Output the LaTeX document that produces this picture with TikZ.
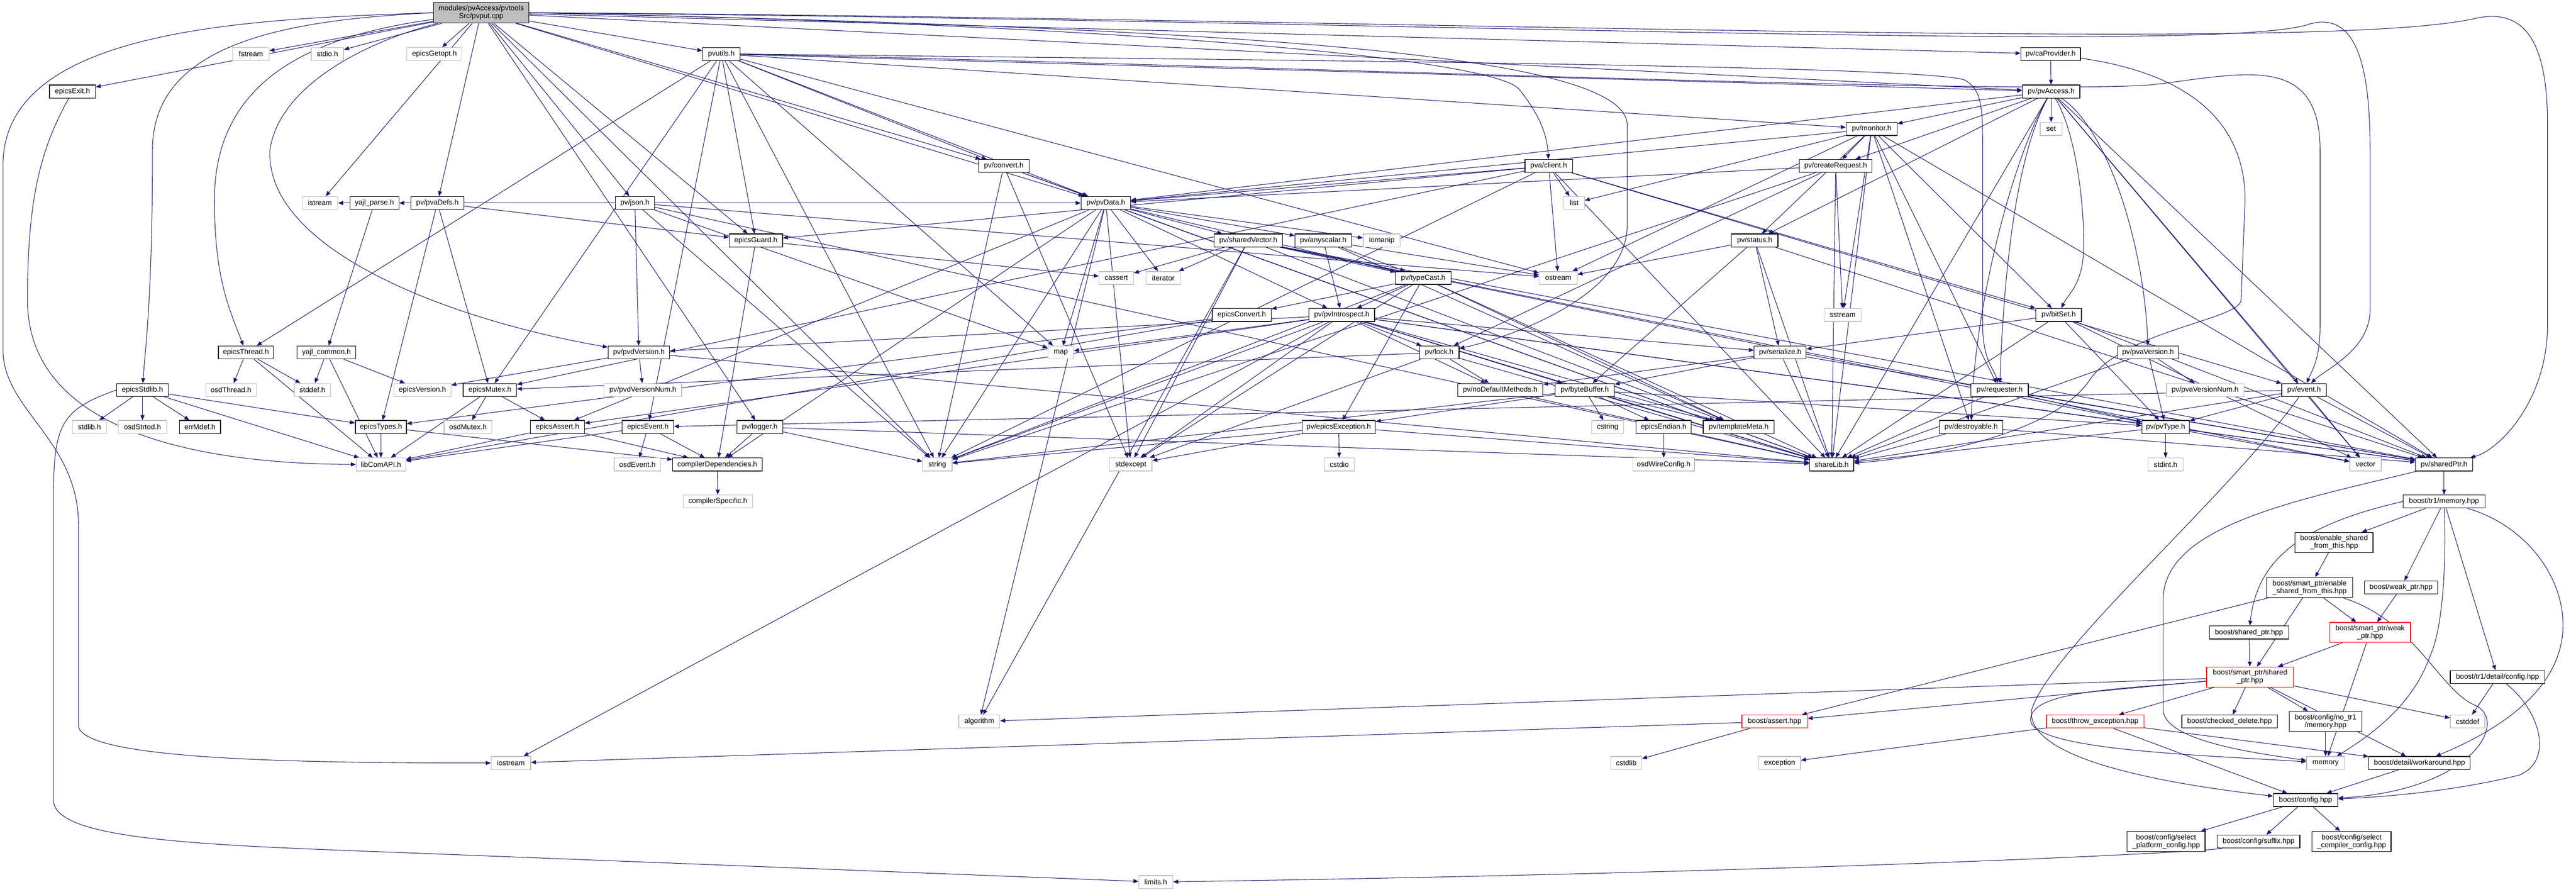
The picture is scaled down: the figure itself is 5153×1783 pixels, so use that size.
\documentclass[tikz,border=0pt]{standalone}
\usepackage{fontspec}
\setmainfont{Liberation Sans}
\usetikzlibrary{arrows.meta}
\definecolor{edgec}{HTML}{191970}
\definecolor{lgray}{HTML}{BFBFBF}
\pgfdeclarelayer{bg}
\pgfsetlayers{bg,main}
\begin{document}
\begin{tikzpicture}[x=1pt,y=-1pt,
  box/.style={rectangle, draw=black, line width=1.3pt, fill=white, minimum height=26pt, inner sep=0pt, font=\fontsize{14.5}{15.5}\selectfont, align=center},
  ext/.style={box, draw=lgray},
  trunc/.style={box, draw=red},
  mainn/.style={box, fill=lgray},
  tall/.style={minimum height=40pt},
  dep/.style={draw=edgec, line width=1.1pt, -{Triangle[length=10pt,width=8pt]}}]
\useasboundingbox (0,0) rectangle (5153,1783);
\node[mainn, minimum width=191pt, minimum height=41pt] (pvput) at (962.5,25.5) {modules/pvAccess/pvtools\\Src/pvput.cpp};
\node[ext, minimum width=73pt] (fstream) at (502,108) {fstream};
\node[ext, minimum width=65pt] (stdio) at (655,108) {stdio.h};
\node[ext, minimum width=110pt] (getopt) at (869,108) {epicsGetopt.h};
\node[box, minimum width=75pt] (pvutils) at (1443,108) {pvutils.h};
\node[box, minimum width=119pt] (caprov) at (4102,108) {pv/caProvider.h};
\node[box, minimum width=92pt] (exitH) at (145,183) {epicsExit.h};
\node[box, minimum width=115pt] (pvaccess) at (4103,183) {pv/pvAccess.h};
\node[box, minimum width=102pt] (monitor) at (3744,258) {pv/monitor.h};
\node[ext, minimum width=44pt] (set) at (4103,258) {set};
\node[box, minimum width=101pt] (convert) at (2008,332) {pv/convert.h};
\node[box, minimum width=95pt] (client) at (3098,332) {pva/client.h};
\node[box, minimum width=145pt] (createreq) at (3672,332) {pv/createRequest.h};
\node[ext, minimum width=71pt] (istream) at (640,406) {istream};
\node[box, minimum width=98pt] (yajlparse) at (749,406) {yajl\_parse.h};
\node[box, minimum width=106pt] (pvadefs) at (875,406) {pv/pvaDefs.h};
\node[box, minimum width=78pt] (json) at (1270,406) {pv/json.h};
\node[box, minimum width=99pt] (pvdata) at (2212,406) {pv/pvData.h};
\node[ext, minimum width=41pt] (list) at (3149,406) {list};
\node[box, minimum width=107pt] (guard) at (1512,481) {epicsGuard.h};
\node[box, minimum width=137pt] (sharedvec) at (2497,481) {pv/sharedVector.h};
\node[box, minimum width=113pt] (anyscalar) at (2647,481) {pv/anyscalar.h};
\node[ext, minimum width=74pt] (iomanip) at (2764,481) {iomanip};
\node[box, minimum width=93pt] (status) at (3510,481) {pv/status.h};
\node[ext, minimum width=69pt] (cassert) at (2233,556) {cassert};
\node[ext, minimum width=69pt] (iterator) at (2327,556) {iterator};
\node[box, minimum width=111pt] (typecast) at (2847,556) {pv/typeCast.h};
\node[ext, minimum width=76pt] (ostream) at (3117,556) {ostream};
\node[box, minimum width=118pt] (epicsconvert) at (2484,630) {epicsConvert.h};
\node[box, minimum width=131pt] (introspect) at (2684,630) {pv/pvIntrospect.h};
\node[ext, minimum width=74pt] (sstream) at (3686,630) {sstream};
\node[box, minimum width=91pt] (bitset) at (4118,630) {pv/bitSet.h};
\node[box, minimum width=110pt] (thread) at (492,705) {epicsThread.h};
\node[box, minimum width=118pt] (yajlcommon) at (653,705) {yajl\_common.h};
\node[box, minimum width=123pt] (pvdversion) at (1278,705) {pv/pvdVersion.h};
\node[ext, minimum width=51pt] (map) at (2122,705) {map};
\node[box, minimum width=79pt] (lock) at (2879,705) {pv/lock.h};
\node[box, minimum width=104pt] (serialize) at (3561,705) {pv/serialize.h};
\node[box, minimum width=122pt] (pvaversion) at (4297,705) {pv/pvaVersion.h};
\node[box, minimum width=103pt] (stdlibE) at (285,780) {epicsStdlib.h};
\node[ext, minimum width=101pt] (osdthread) at (462,780) {osdThread.h};
\node[ext, minimum width=73pt] (stddef) at (625,780) {stddef.h};
\node[ext, minimum width=114pt] (epicsversion) at (845,780) {epicsVersion.h};
\node[box, minimum width=107pt] (mutex) at (980,780) {epicsMutex.h};
\node[ext, minimum width=155pt] (pvdversionnum) at (1286,780) {pv/pvdVersionNum.h};
\node[box, minimum width=170pt] (nodefault) at (3001,780) {pv/noDefaultMethods.h};
\node[box, minimum width=118pt] (bytebuffer) at (3170,780) {pv/byteBuffer.h};
\node[box, minimum width=115pt] (requester) at (4000,780) {pv/requester.h};
\node[ext, minimum width=155pt] (pvaversionnum) at (4411,780) {pv/pvaVersionNum.h};
\node[box, minimum width=89pt] (event) at (4609,780) {pv/event.h};
\node[ext, minimum width=68pt] (stdlibh) at (179,854) {stdlib.h};
\node[ext, minimum width=97pt] (osdstrtod) at (285,854) {osdStrtod.h};
\node[box, minimum width=82pt] (errmdef) at (400,854) {errMdef.h};
\node[box, minimum width=102pt] (types) at (762,854) {epicsTypes.h};
\node[ext, minimum width=95pt] (osdmutex) at (936,854) {osdMutex.h};
\node[box, minimum width=108pt] (assertE) at (1115,854) {epicsAssert.h};
\node[box, minimum width=103pt] (eventE) at (1296,854) {epicsEvent.h};
\node[box, minimum width=92pt] (logger) at (1520,854) {pv/logger.h};
\node[box, minimum width=147pt] (exceptionH) at (2678,854) {pv/epicsException.h};
\node[ext, minimum width=64pt] (cstring) at (3216,854) {cstring};
\node[box, minimum width=110pt] (endian) at (3328,854) {epicsEndian.h};
\node[box, minimum width=142pt] (templatemeta) at (3478,854) {pv/templateMeta.h};
\node[box, minimum width=127pt] (destroyable) at (3943,854) {pv/destroyable.h};
\node[box, minimum width=95pt] (pvtype) at (4332,854) {pv/pvType.h};
\node[ext, minimum width=99pt] (libcom) at (762,929) {libComAPI.h};
\node[ext, minimum width=93pt] (osdevent) at (1275,929) {osdEvent.h};
\node[box, minimum width=179pt] (compdep) at (1435,929) {compilerDependencies.h};
\node[ext, minimum width=59pt] (string) at (1875,929) {string};
\node[ext, minimum width=85pt] (stdexcept) at (2262,929) {stdexcept};
\node[ext, minimum width=60pt] (cstdio) at (2679,929) {cstdio};
\node[ext, minimum width=123pt] (wireconfig) at (3328,929) {osdWireConfig.h};
\node[box, minimum width=88pt] (sharelib) at (3664,929) {shareLib.h};
\node[ext, minimum width=70pt] (stdint) at (4332,929) {stdint.h};
\node[ext, minimum width=63pt] (vector) at (4732,929) {vector};
\node[box, minimum width=114pt] (sharedptr) at (4889,929) {pv/sharedPtr.h};
\node[ext, minimum width=138pt] (compspec) at (1436,1003) {compilerSpecific.h};
\node[box, minimum width=164pt] (tr1mem) at (4889,1003) {boost/tr1/memory.hpp};
\node[box, tall, minimum width=156pt] (enableshared) at (4669,1085) {boost/enable\_shared\\\_from\_this.hpp};
\node[box, tall, minimum width=172pt] (spenable) at (4620,1175) {boost/smart\_ptr/enable\\\_shared\_from\_this.hpp};
\node[box, minimum width=146pt] (weakptr) at (4803,1175) {boost/weak\_ptr.hpp};
\node[box, minimum width=159pt] (sharedptrhpp) at (4499,1265) {boost/shared\_ptr.hpp};
\node[trunc, tall, minimum width=162pt] (spweak) at (4741,1265) {boost/smart\_ptr/weak\\\_ptr.hpp};
\node[trunc, tall, minimum width=174pt] (spshared) at (4501,1354) {boost/smart\_ptr/shared\\\_ptr.hpp};
\node[box, minimum width=189pt] (tr1config) at (4996,1354) {boost/tr1/detail/config.hpp};
\node[ext, minimum width=82pt] (algorithm) at (1959,1443) {algorithm};
\node[trunc, minimum width=131pt] (assertB) at (3550,1443) {boost/assert.hpp};
\node[trunc, minimum width=195pt] (throwexc) at (4191,1443) {boost/throw\_exception.hpp};
\node[box, minimum width=191pt] (checkeddel) at (4460,1443) {boost/checked\_delete.hpp};
\node[box, tall, minimum width=145pt] (notr1mem) at (4652,1443) {boost/config/no\_tr1\\/memory.hpp};
\node[ext, minimum width=69pt] (cstddef) at (4936,1443) {cstddef};
\node[ext, minimum width=79pt] (iostream) at (1022,1526) {iostream};
\node[ext, minimum width=62pt] (cstdlib) at (3253,1526) {cstdlib};
\node[ext, minimum width=84pt] (exception) at (3560,1526) {exception};
\node[ext, minimum width=76pt] (memory) at (4652,1526) {memory};
\node[box, minimum width=203pt] (workaround) at (4840,1526) {boost/detail/workaround.hpp};
\node[box, minimum width=129pt] (config) at (4612,1600) {boost/config.hpp};
\node[box, tall, minimum width=156pt] (selplat) at (4333,1683) {boost/config/select\\\_platform\_config.hpp};
\node[box, minimum width=165pt] (suffix) at (4518,1683) {boost/config/suffix.hpp};
\node[box, tall, minimum width=158pt] (selcomp) at (4704,1683) {boost/config/select\\\_compiler\_config.hpp};
\node[ext, minimum width=68pt] (limits) at (2312,1764) {limits.h};

\begin{pgfonlayer}{bg}
\fill[white] (0,0) rectangle (5153,1783);
\foreach \a/\b in {pvput/fstream, pvput/stdio, pvput/getopt, pvput/exitH, pvput/istream, pvput/pvadefs, pvput/json, pvput/pvutils, pvput/caprov, pvput/pvaccess, pvput/convert, pvput/pvdata, pvput/string, pvput/guard, pvput/logger,
 pvutils/thread, pvutils/guard, pvutils/convert, pvutils/pvdata, pvutils/ostream, pvutils/string, pvutils/map, pvutils/pvaccess, pvutils/monitor, pvutils/eventE, pvutils/mutex,
 json/istream, json/yajlparse, json/pvdata, json/pvdversion, json/string, json/map, json/ostream, json/sharelib,
 yajlparse/yajlcommon, yajlcommon/stddef, yajlcommon/epicsversion, yajlcommon/libcom,
 pvadefs/types, pvadefs/mutex, pvadefs/guard,
 stdlibE/stdlibh, stdlibE/osdstrtod, stdlibE/errmdef, stdlibE/types, stdlibE/libcom,
 thread/osdthread, thread/stddef, thread/libcom,
 mutex/osdmutex, mutex/libcom, mutex/assertE,
 types/libcom, types/compdep, assertE/libcom, assertE/compdep,
 eventE/libcom, eventE/osdevent, eventE/compdep,
 pvdversion/pvdversionnum, pvdversion/epicsversion, pvdversion/sharelib,
 logger/compdep, logger/string, logger/sharelib, compdep/compspec, guard/cassert, guard/compdep,
 convert/pvdata, convert/string, convert/stdexcept, convert/sharelib,
 client/list, client/ostream, client/pvdata, client/bitset, client/event, client/mutex, client/guard, client/sharelib, client/string,
 caprov/pvaccess,
 pvaccess/set, pvaccess/monitor, pvaccess/createreq, pvaccess/status, pvaccess/pvdata, pvaccess/sharelib, pvaccess/event, pvaccess/sharedptr, pvaccess/vector,
 monitor/createreq, monitor/list, monitor/ostream, monitor/status, monitor/pvdata, monitor/bitset, monitor/sharedptr, monitor/sharelib, monitor/requester, monitor/destroyable, monitor/sstream,
 createreq/pvdata, createreq/string, createreq/sharelib, createreq/lock, createreq/sstream,
 status/ostream, status/serialize, status/bytebuffer, status/sharelib, status/sharedptr,
 pvdata/sharedvec, pvdata/anyscalar, pvdata/iterator, pvdata/introspect, pvdata/typecast, pvdata/string, pvdata/stdexcept, pvdata/map, pvdata/algorithm, pvdata/compdep, pvdata/assertE, pvdata/sharelib, pvdata/iomanip,
 sharedvec/cassert, sharedvec/iterator, sharedvec/algorithm, sharedvec/stdexcept, sharedvec/typecast, sharedvec/templatemeta, sharedvec/sharedptr, sharedvec/pvtype, sharedvec/vector,
 anyscalar/typecast, anyscalar/ostream, anyscalar/introspect, anyscalar/templatemeta,
 typecast/introspect, typecast/epicsconvert, typecast/exceptionH, typecast/templatemeta, typecast/stdexcept, typecast/string, typecast/sharelib,
 epicsconvert/types, epicsconvert/libcom,
 introspect/lock, introspect/nodefault, introspect/bytebuffer, introspect/serialize, introspect/templatemeta, introspect/sharelib, introspect/pvdversion, introspect/string, introspect/stdexcept, introspect/map, introspect/iostream, introspect/pvtype, introspect/sharedptr, introspect/assertE,
 lock/mutex, lock/nodefault, lock/sharelib, lock/stdexcept,
 serialize/bytebuffer, serialize/nodefault, serialize/sharelib, serialize/sharedptr,
 bytebuffer/cstring, bytebuffer/endian, bytebuffer/templatemeta, bytebuffer/exceptionH, bytebuffer/string, bytebuffer/sharelib, bytebuffer/pvtype,
 exceptionH/cstdio, exceptionH/stdexcept, exceptionH/string, exceptionH/sharelib,
 endian/wireconfig, nodefault/sharelib, destroyable/sharelib, destroyable/sharedptr,
 requester/pvtype, requester/sharedptr, requester/sharelib,
 pvaversion/pvaversionnum, pvaversion/pvtype, pvaversion/sharelib,
 event/eventE, event/pvtype, event/vector, event/sharedptr, event/sharelib,
 pvtype/stdint, pvtype/vector, pvtype/sharedptr, pvtype/sharelib,
 bitset/vector, bitset/serialize, bitset/sharelib, bitset/sharedptr, bitset/pvtype,
 sharedptr/tr1mem, tr1mem/enableshared, tr1mem/weakptr, tr1mem/tr1config,
 enableshared/spenable, spenable/spweak, spenable/spshared, spenable/assertB,
 weakptr/spweak, sharedptrhpp/spshared, spweak/spshared, spweak/memory,
 spshared/checkeddel, spshared/notr1mem, spshared/cstddef, spshared/workaround, spshared/algorithm, spshared/assertB, spshared/throwexc,
 assertB/cstdlib, assertB/iostream, throwexc/exception, throwexc/config, throwexc/workaround,
 notr1mem/memory, tr1config/cstddef, workaround/config,
 config/selplat, config/suffix, config/selcomp}
 \draw[dep] (\a) -- (\b);
% routed connectors
\draw[dep] (pvput.west) .. controls (500,38) and (6,55) .. (6,330) -- (6,700) .. controls (6,820) and (157,880) .. (157,1050) -- (157,1450) .. controls (157,1520) and (600,1526) .. (iostream);
\draw[dep] (pvput.west) .. controls (560,40) and (305,90) .. (305,300) .. controls (305,600) and (290,700) .. (stdlibE);
\draw[dep] (pvput) .. controls (640,70) and (429,150) .. (429,400) .. controls (429,560) and (460,620) .. (thread);
\draw[dep] (pvput) .. controls (760,75) and (560,160) .. (540,300) .. controls (530,500) and (900,640) .. (pvdversion);
\draw[dep] (pvput.east) .. controls (2300,50) and (3000,120) .. (3040,180) .. controls (3080,230) and (3095,270) .. (client);
\draw[dep] (pvput.east) .. controls (2400,55) and (3255,100) .. (3255,250) -- (3255,450) .. controls (3255,600) and (3000,680) .. (lock);
\draw[dep] (pvput.east) .. controls (2800,40) and (4450,110) .. (4620,48) .. controls (4720,20) and (4741,150) .. (4741,300) -- (4741,620) .. controls (4741,700) and (4650,740) .. (event);
\draw[dep] (pvput.east) .. controls (2800,35) and (4650,110) .. (4955,36) .. controls (5060,15) and (5096,100) .. (5096,250) -- (5096,650) .. controls (5096,800) and (5000,900) .. (sharedptr);
\draw[dep] (pvutils.east) .. controls (2500,130) and (4000,190) .. (4300,170) .. controls (4480,150) and (4641,100) .. (4641,300) -- (4641,650) .. controls (4641,720) and (4625,740) .. (event);
\draw[dep] (pvutils.east) .. controls (2500,120) and (3850,130) .. (3930,160) .. controls (3966,180) and (3966,220) .. (3966,300) -- (3966,650) .. controls (3966,720) and (3990,740) .. (requester);
\draw[dep] (pvaccess) .. controls (4150,260) and (4170,400) .. (4168,500) .. controls (4166,570) and (4135,590) .. (bitset);
\draw[dep] (pvaccess) .. controls (4040,300) and (4010,500) .. (requester);
\draw[dep] (pvaccess) .. controls (4030,310) and (3950,600) .. (destroyable);
\draw[dep] (pvaccess) .. controls (4220,260) and (4290,500) .. (pvaversion);
\draw[dep] (exitH) .. controls (80,300) and (55,400) .. (55,600) .. controls (55,900) and (500,928) .. (libcom);
\draw[dep] (stdlibE.west) .. controls (120,820) and (107,850) .. (107,1000) -- (107,1600) .. controls (107,1680) and (400,1690) .. (800,1705) -- (limits);
\draw[dep] (caprov) .. controls (4400,150) and (4491,260) .. (4491,400) -- (4483,600) .. controls (4480,640) and (4250,660) .. (4180,760) .. controls (4100,880) and (3800,920) .. (sharelib);
\draw[dep] (event) .. controls (4450,1000) and (4100,1300) .. (4064,1420) .. controls (4050,1530) and (4400,1575) .. (config);
\draw[dep] (sharedptr) .. controls (4600,1000) and (4327,1050) .. (4327,1200) -- (4327,1420) .. controls (4330,1480) and (4500,1505) .. (memory);
\draw[dep] (spshared) .. controls (4250,1378) and (4060,1380) .. (4062,1440) .. controls (4065,1500) and (4400,1510) .. (memory);
\draw[dep] (tr1mem.west) .. controls (4600,1050) and (4515,1120) .. (sharedptrhpp);
\draw[dep] (tr1mem) .. controls (4893,1100) and (4890,1250) .. (4861,1312) .. controls (4830,1400) and (4760,1460) .. (memory);
\draw[dep] (tr1mem) .. controls (5050,1050) and (5127,1150) .. (5127,1250) .. controls (5127,1400) and (4950,1480) .. (workaround);
\draw[dep] (tr1config) .. controls (5080,1420) and (5110,1520) .. (5040,1550) .. controls (4900,1585) and (4750,1595) .. (config);
\draw[dep] (spenable) .. controls (4830,1240) and (4880,1380) .. (4950,1410) .. controls (5020,1440) and (4950,1580) .. (config);
\draw[dep] (suffix) .. controls (4400,1705) and (3600,1745) .. (limits);
\end{pgfonlayer}
\end{tikzpicture}
\end{document}
